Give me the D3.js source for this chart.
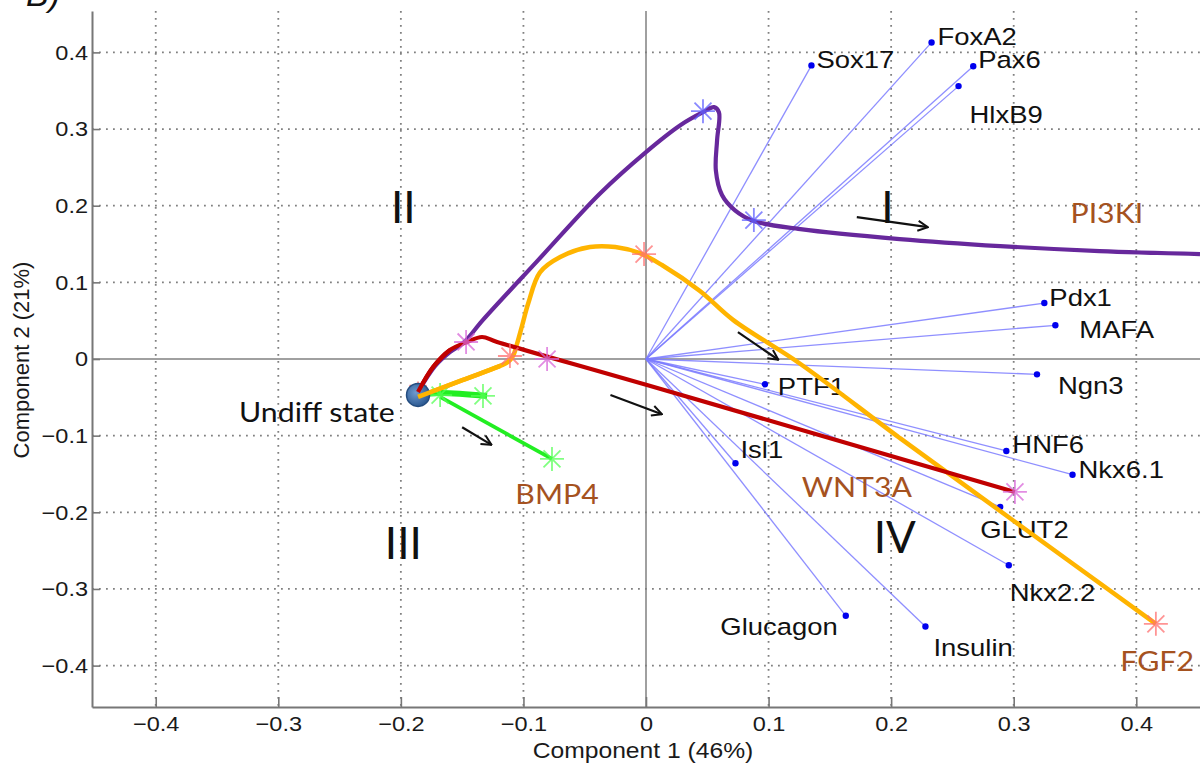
<!DOCTYPE html>
<html>
<head>
<meta charset="utf-8">
<script src="https://cdn.jsdelivr.net/npm/d3@7"></script>
<style>
  body { margin: 0; background: #fff; }
  svg { display: block; }
</style>
</head>
<body>
<div id="chart"></div>
<script>
// gene loading vectors (Component 1, Component 2)
var geneNames = ["Sox17", "FoxA2", "Pax6", "HlxB9", "Pdx1", "MAFA", "Ngn3", "PTF1",
                 "HNF6", "Nkx6.1", "Isl1", "GLUT2", "Nkx2.2", "Glucagon", "Insulin"];
var geneX = [0.135, 0.233, 0.267, 0.255, 0.325, 0.334, 0.319, 0.097,
             0.294, 0.348, 0.073, 0.289, 0.296, 0.163, 0.228];
var geneY = [0.383, 0.413, 0.382, 0.356, 0.073, 0.044, -0.020, -0.033,
             -0.120, -0.151, -0.136, -0.193, -0.269, -0.335, -0.349];

// trajectories from the undifferentiated state
var pi3kiPath = [[-0.186,-0.043],[-0.172,-0.009],[-0.160,0.009],[-0.149,0.021],[-0.133,0.051],
                 [-0.088,0.129],[-0.0375,0.216],[0,0.270],[0.028,0.305],[0.0465,0.322],
                 [0.0555,0.3286],[0.0595,0.322],[0.058,0.2855],[0.057,0.246],[0.062,0.214],
                 [0.0726,0.194],[0.088,0.180],[0.126,0.1695],[0.207,0.1565],[0.289,0.1473],
                 [0.370,0.1408],[0.452,0.1369]];
var fgf2Path = [[-0.186,-0.0495],[-0.152,-0.029],[-0.119,-0.009],[-0.1126,-0.004],[-0.1085,0.004],
                [-0.105,0.021],[-0.101,0.044],[-0.096,0.073],[-0.0865,0.113],[-0.070,0.133],
                [-0.0457,0.146],[-0.025,0.146],[-0.005,0.138],[0.013,0.1226],[0.044,0.0887],
                [0.071,0.051],[0.126,-0.0065],[0.207,-0.103],[0.299,-0.210],[0.416,-0.3455]];
var wnt3aPath = [[-0.186,-0.043],[-0.1737,-0.0104],[-0.160,0.0117],[-0.146,0.0222],
                 [-0.1338,0.0287],[-0.1215,0.0222],[0.0008,-0.034],[0.301,-0.1734]];
var bmp4PathA = [[-0.186,-0.047],[-0.168,-0.0443],[-0.1297,-0.0482]];
var bmp4PathB = [[-0.168,-0.0495],[-0.0767,-0.1304]];
var undiffState = [-0.186, -0.0469];

// sample time points (asterisks)
var pi3kiStars = [[0.0465,0.3233],[0.088,0.1812]];
var fgf2Stars = [[-0.186,-0.045],[-0.0016,0.1369],[-0.111,0.0039],[0.416,-0.3455]];
var wnt3aStars = [[-0.1468,0.0222],[-0.0807,0],[0.301,-0.1734]];
var bmp4Stars = [[-0.168,-0.047],[-0.133,-0.0482],[-0.0767,-0.1304]];

var tickValues = [-0.4, -0.3, -0.2, -0.1, 0, 0.1, 0.2, 0.3, 0.4];

var width = 1200, height = 769;
var margin = {top: 11, right: 0, bottom: 62, left: 92};
var textStretch = 1.12;

var svg = d3.select("#chart").append("svg")
    .attr("width", width)
    .attr("height", height);

var x = d3.scaleLinear().domain([-0.452, 0.452]).range([margin.left, width - margin.right]);
var y = d3.scaleLinear().domain([-0.454, 0.454]).range([height - margin.bottom, margin.top]);

function stretch(sel, k) {
    sel.each(function() {
        var w = this.getComputedTextLength();
        this.setAttribute("textLength", w * k);
        this.setAttribute("lengthAdjust", "spacingAndGlyphs");
    });
}

svg.append("defs").append("clipPath").attr("id", "plot-clip")
  .append("rect")
    .attr("x", margin.left).attr("y", margin.top)
    .attr("width", width - margin.left - margin.right)
    .attr("height", height - margin.top - margin.bottom);

var defs = svg.select("defs");
defs.append("marker")
    .attr("id", "arrowhead")
    .attr("viewBox", "0 0 12 12")
    .attr("refX", 11).attr("refY", 6)
    .attr("markerWidth", 12).attr("markerHeight", 12)
    .attr("markerUnits", "userSpaceOnUse")
    .attr("orient", "auto")
  .append("path")
    .attr("d", "M1,1 L11,6 L1,11")
    .attr("fill", "none")
    .attr("stroke", "#111")
    .attr("stroke-width", 2);

var grad = defs.append("radialGradient").attr("id", "undiff-grad")
    .attr("cx", "40%").attr("cy", "40%").attr("r", "60%");
grad.append("stop").attr("offset", "0%").attr("stop-color", "#6f9bd0");
grad.append("stop").attr("offset", "100%").attr("stop-color", "#2d5a92");

// grid
var grid = svg.append("g").attr("class", "grid");
grid.selectAll(".vgrid").data(tickValues.filter(function(d){ return d !== 0; }))
  .enter().append("line")
    .attr("x1", function(d){ return x(d); }).attr("x2", function(d){ return x(d); })
    .attr("y1", margin.top).attr("y2", height - margin.bottom)
    .attr("stroke", "#808080").attr("stroke-width", 1.8)
    .attr("stroke-dasharray", "1.8,5.2");
grid.selectAll(".hgrid").data(tickValues.filter(function(d){ return d !== 0; }))
  .enter().append("line")
    .attr("y1", function(d){ return y(d); }).attr("y2", function(d){ return y(d); })
    .attr("x1", margin.left).attr("x2", width)
    .attr("stroke", "#808080").attr("stroke-width", 1.8)
    .attr("stroke-dasharray", "1.8,5.2");

// zero lines
svg.append("line")
    .attr("x1", x(0)).attr("x2", x(0)).attr("y1", margin.top).attr("y2", height - margin.bottom)
    .attr("stroke", "#808080").attr("stroke-width", 1.5);
svg.append("line")
    .attr("x1", margin.left).attr("x2", width).attr("y1", y(0)).attr("y2", y(0))
    .attr("stroke", "#808080").attr("stroke-width", 1.5);

// axes
var fmt = function(d){ return d === 0 ? "0" : d3.format(".1f")(d); };
var xAxis = d3.axisBottom(x).tickValues(tickValues).tickFormat(fmt)
    .tickSizeInner(-10).tickSizeOuter(0).tickPadding(17);
var yAxis = d3.axisLeft(y).tickValues(tickValues).tickFormat(fmt)
    .tickSizeInner(-8).tickSizeOuter(0).tickPadding(4);

var gx = svg.append("g")
    .attr("transform", "translate(0," + (height - margin.bottom) + ")")
    .call(xAxis);
var gy = svg.append("g")
    .attr("transform", "translate(" + margin.left + ",0)")
    .call(yAxis);
[gx, gy].forEach(function(g) {
    g.select(".domain").attr("stroke", "#777").attr("stroke-width", 2);
    g.selectAll(".tick line").attr("stroke", "#777").attr("stroke-width", 1.6);
    g.selectAll(".tick text")
        .attr("fill", "#1a1a1a")
        .style("font-family", "'Liberation Sans', Arial, sans-serif")
        .style("font-size", "21px");
});
gx.selectAll(".tick text").attr("dy", "0.35em");
stretch(gx.selectAll(".tick text"), textStretch);
stretch(gy.selectAll(".tick text"), textStretch);

svg.append("text")
    .attr("x", x(0) - 3).attr("y", 758)
    .attr("text-anchor", "middle")
    .attr("fill", "#1a1a1a")
    .style("font-family", "'Liberation Sans', Arial, sans-serif")
    .style("font-size", "22px")
    .text("Component 1 (46%)")
    .call(stretch, textStretch);

svg.append("text")
    .attr("transform", "translate(29," + (y(0) + 1) + ") rotate(-90)")
    .attr("text-anchor", "middle")
    .attr("fill", "#1a1a1a")
    .style("font-family", "'Liberation Sans', Arial, sans-serif")
    .style("font-size", "22px")
    .text("Component 2 (21%)");

// panel letter, cut by the top edge as in the source figure
svg.append("text")
    .attr("x", 26).attr("y", 6)
    .attr("fill", "#111")
    .style("font-family", "'Liberation Sans', Arial, sans-serif")
    .style("font-size", "34px")
    .style("font-style", "italic")
    .text("B)");

var plot = svg.append("g").attr("clip-path", "url(#plot-clip)");

// gene vectors
var genes = geneNames.map(function(n, i){ return {name: n, x: geneX[i], y: geneY[i]}; });
plot.append("g").selectAll("line").data(genes).enter().append("line")
    .attr("x1", x(0)).attr("y1", y(0))
    .attr("x2", function(d){ return x(d.x); })
    .attr("y2", function(d){ return y(d.y); })
    .attr("stroke", "#7b7bff")
    .attr("stroke-opacity", 0.85)
    .attr("stroke-width", 1.3);
plot.append("g").selectAll("circle").data(genes).enter().append("circle")
    .attr("cx", function(d){ return x(d.x); })
    .attr("cy", function(d){ return y(d.y); })
    .attr("r", 3.2)
    .attr("fill", "#0000ee");

// gene label placement, px from the vector tip
var geneLabelOffset = {
    "Sox17": [5, 3], "FoxA2": [6, 3], "Pax6": [5, 2], "HlxB9": [11, 37],
    "Pdx1": [5, 3], "MAFA": [24, 13], "Ngn3": [21, 20], "PTF1": [13, 11],
    "HNF6": [6, 2], "Nkx6.1": [6, 3], "Isl1": [5, -5], "GLUT2": [-20, 31],
    "Nkx2.2": [1, 36], "Glucagon": [-8, 19], "Insulin": [8, 29]
};
plot.append("g").selectAll("text").data(genes).enter().append("text")
    .attr("x", function(d){ return x(d.x) + geneLabelOffset[d.name][0]; })
    .attr("y", function(d){ return y(d.y) + geneLabelOffset[d.name][1]; })
    .attr("text-anchor", function(d){ return d.name === "Glucagon" ? "end" : "start"; })
    .attr("fill", "#111")
    .style("font-family", "'Liberation Sans', Arial, sans-serif")
    .style("font-size", "24.5px")
    .text(function(d){ return d.name; })
    .call(stretch, textStretch);

// trajectories
var line = d3.line()
    .x(function(d){ return x(d[0]); })
    .y(function(d){ return y(d[1]); })
    .curve(d3.curveCatmullRom.alpha(0.5));

plot.append("path").datum(pi3kiPath).attr("d", line)
    .attr("fill", "none").attr("stroke", "#67289c").attr("stroke-width", 4.2);
plot.append("path").datum(fgf2Path).attr("d", line)
    .attr("fill", "none").attr("stroke", "#ffb400").attr("stroke-width", 4.5);
plot.append("path").datum(wnt3aPath).attr("d", line)
    .attr("fill", "none").attr("stroke", "#c00000").attr("stroke-width", 4.2);
plot.append("path").datum(bmp4PathA).attr("d", line)
    .attr("fill", "none").attr("stroke", "#22ee22").attr("stroke-width", 6);
plot.append("path").datum(bmp4PathB).attr("d", line)
    .attr("fill", "none").attr("stroke", "#22ee22").attr("stroke-width", 3.8);

// asterisk markers
function asterisk(r) {
    var a = r * Math.SQRT1_2;
    return "M" + (-r) + ",0L" + r + ",0M0," + (-r) + "L0," + r +
           "M" + (-a) + "," + (-a) + "L" + a + "," + a +
           "M" + (-a) + "," + a + "L" + a + "," + (-a);
}
function drawStars(pts, color) {
    plot.append("g").selectAll("path").data(pts).enter().append("path")
        .attr("transform", function(d){ return "translate(" + x(d[0]) + "," + y(d[1]) + ")"; })
        .attr("d", asterisk(12))
        .attr("fill", "none")
        .attr("stroke", color)
        .attr("stroke-opacity", 0.75)
        .attr("stroke-width", 1.8);
}
drawStars(pi3kiStars, "#6060ff");
drawStars(fgf2Stars, "#ff7070");
drawStars(wnt3aStars, "#d866d8");
drawStars(bmp4Stars, "#55ff55");

// undifferentiated state
plot.append("circle")
    .attr("cx", x(undiffState[0])).attr("cy", y(undiffState[1]))
    .attr("r", 11.5)
    .attr("fill", "url(#undiff-grad)")
    .attr("stroke", "#244d80").attr("stroke-width", 1.5);
// the FGF2 and WNT3A lines start over the dot
plot.append("path").datum(fgf2Path.slice(0, 3)).attr("d", line)
    .attr("fill", "none").attr("stroke", "#ffb400").attr("stroke-width", 4.5);
plot.append("path").datum(wnt3aPath.slice(0, 3)).attr("d", line)
    .attr("fill", "none").attr("stroke", "#c00000").attr("stroke-width", 4.2);

// direction arrows
var arrows = [[0.172, 0.185, 0.230, 0.172], [0.075, 0.035, 0.108, -0.001],
              [-0.029, -0.047, 0.013, -0.072], [-0.150, -0.089, -0.126, -0.112]];
plot.append("g").selectAll("line").data(arrows).enter().append("line")
    .attr("x1", function(d){ return x(d[0]); }).attr("y1", function(d){ return y(d[1]); })
    .attr("x2", function(d){ return x(d[2]); }).attr("y2", function(d){ return y(d[3]); })
    .attr("stroke", "#111").attr("stroke-width", 2.2)
    .attr("marker-end", "url(#arrowhead)");

// quadrant numerals
var quadrants = [["I", 0.197, 0.198], ["II", -0.198, 0.198], ["III", -0.198, -0.240], ["IV", 0.203, -0.232]];
plot.append("g").selectAll("text").data(quadrants).enter().append("text")
    .attr("x", function(d){ return x(d[1]); })
    .attr("y", function(d){ return y(d[2]); })
    .attr("dy", "0.36em")
    .attr("text-anchor", "middle")
    .attr("fill", "#111")
    .style("font-family", "Lato, 'Open Sans', sans-serif")
    .style("font-size", "44px")
    .text(function(d){ return d[0]; });

// treatment labels
var treatments = [["PI3KI", 0.376, 0.190], ["WNT3A", 0.172, -0.167], ["BMP4", -0.0726, -0.177], ["FGF2", 0.417, -0.395]];
plot.append("g").selectAll("text").data(treatments).enter().append("text")
    .attr("x", function(d){ return x(d[1]); })
    .attr("y", function(d){ return y(d[2]); })
    .attr("dy", "0.36em")
    .attr("text-anchor", "middle")
    .attr("fill", "#a5521f")
    .style("font-family", "Lato, 'Open Sans', sans-serif")
    .style("font-size", "27px")
    .text(function(d){ return d[0]; })
    .call(stretch, textStretch);

plot.append("text")
    .attr("x", x(-0.205)).attr("y", y(-0.069))
    .attr("dy", "0.36em")
    .attr("text-anchor", "end")
    .attr("fill", "#111")
    .style("font-family", "Lato, 'Open Sans', sans-serif")
    .style("font-size", "27px")
    .text("Undiff state")
    .call(stretch, textStretch);
</script>
</body>
</html>
